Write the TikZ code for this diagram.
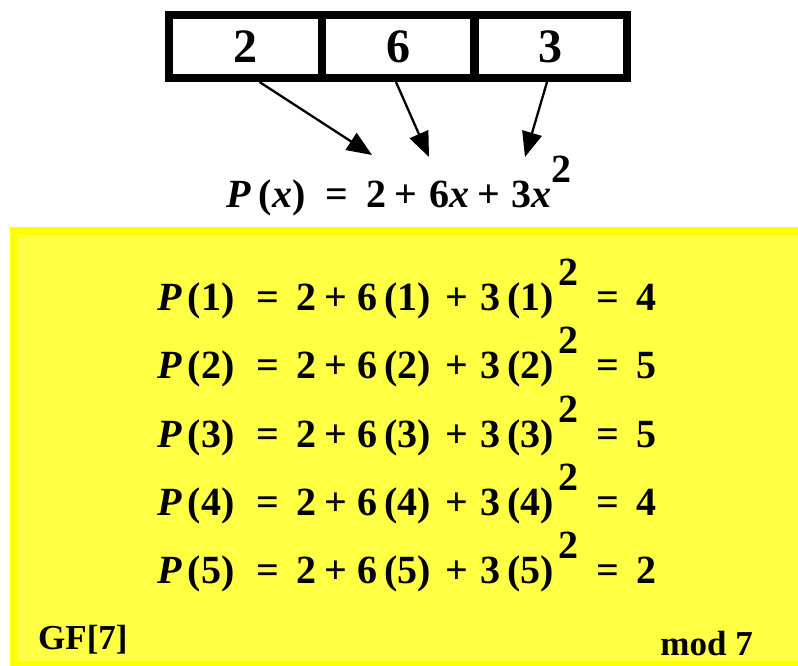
\documentclass[tikz,border=0pt]{standalone}
\usepackage{fontspec}
\setmainfont{Liberation Serif}
\usepackage{tikz}
\usetikzlibrary{arrows.meta}
\definecolor{gfborder}{RGB}{255,255,0}
\definecolor{gffill}{RGB}{255,255,68}
\newcommand{\gap}[1]{\hspace{#1em}}
\newcommand{\supsq}{\raisebox{0.62em}{2}}
\newcommand{\evalP}[2]{\textit{P}\gap{0.15}(#1)\gap{0.55}=\gap{0.42}2\gap{0.2}+\gap{0.26}6\gap{0.18}(#1)\gap{0.36}+\gap{0.3}3\gap{0.18}(#1)\gap{0.1}\supsq\gap{0.46}=\gap{0.42}#2}

\begin{document}
\begin{tikzpicture}[x=1pt, y=-1pt,
		cell/.style={draw=black, line width=8pt, minimum width=153pt, minimum height=63pt, inner sep=0pt, font=\fontsize{48}{48}\selectfont\bfseries},
		coef/.style={-{Triangle[length=25pt, width=20pt]}, line width=2.3pt},
		bigtext/.style={inner sep=0pt, font=\fontsize{40}{40}\selectfont\bfseries},
		evalline/.style={bigtext, anchor=base west}]
			\useasboundingbox (0,0) rectangle (798,665);
			
			% field box
			\fill[gffill] (14,231) rectangle (810,665);
			\draw[gfborder, line width=8pt] (14,231) rectangle (810,665);
			
			% coefficients
			\node[cell] (c0) at (245.5,46.5) {2};
			\node[cell] (c1) at (398,46.5) {6};
			\node[cell] (c2) at (550,46.5) {3};
			
			\coordinate (t0) at (372,155);
			\coordinate (t1) at (429,157);
			\coordinate (t2) at (525,157);
			\draw[coef] ([xshift=14pt]c0.south) -- (t0);
			\draw[coef] ([xshift=-2pt]c1.south) -- (t1);
			\draw[coef] ([xshift=-3pt]c2.south) -- (t2);
			
			\node[evalline] (poly) at (226,207)
				{\textit{P}\gap{0.2}(\textit{x})\gap{0.5}=\gap{0.45}2\gap{0.2}+\gap{0.3}6\textit{x}\gap{0.2}+\gap{0.3}3\textit{x}\supsq};
			
			\foreach \n/\r/\yy in {1/4/310, 2/5/378, 3/5/447, 4/4/515, 5/2/583}
				\node[evalline] (p\n) at (157,\yy) {\evalP{\n}{\r}};
			
			\node[anchor=base west, inner sep=0pt, font=\fontsize{35}{35}\selectfont\bfseries] (gf) at (38,649) {GF[7]};
			\node[anchor=base east, inner sep=0pt, font=\fontsize{35}{35}\selectfont\bfseries] (mod) at (753,655) {mod 7};
		\end{tikzpicture}
\end{document}
